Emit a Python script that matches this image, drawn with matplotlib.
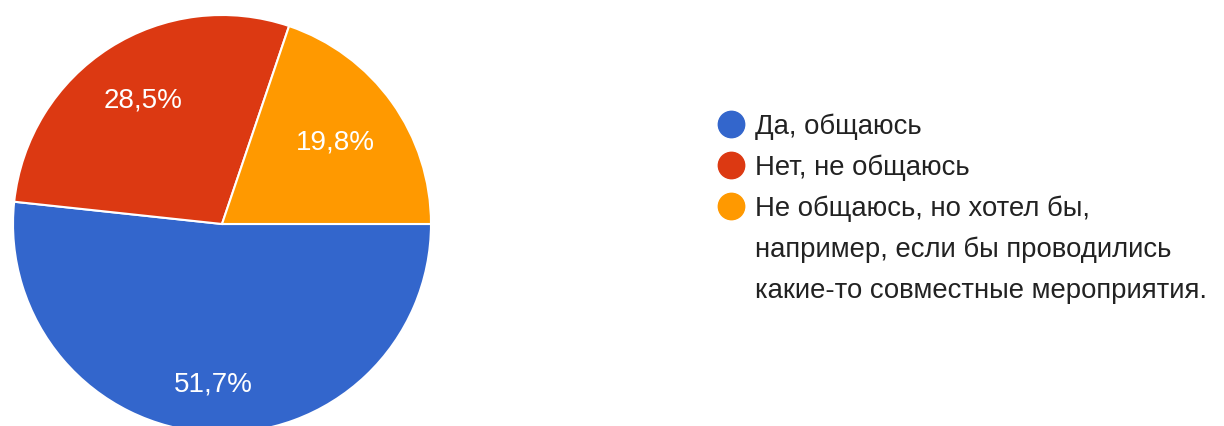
import numpy as np
import matplotlib.pyplot as plt
from matplotlib.lines import Line2D

plt.rcParams['font.family'] = ['Liberation Sans', 'DejaVu Sans']

# data
labels = ["Да, общаюсь", "Нет, не общаюсь",
          "Не общаюсь, но хотел бы,\nнапример, если бы проводились\nкакие-то совместные мероприятия."]
values = [51.7, 28.5, 19.8]
colors = ["#3366cc", "#dc3912", "#ff9900"]

fig = plt.figure(figsize=(12.24, 4.26), dpi=100)
W, H = 1224, 426
cx, cy, r = 222, 224, 209
ax = fig.add_axes([(cx - r) / W, (H - cy - r) / H, 2 * r / W, 2 * r / H])

wedges, texts, autotexts = ax.pie(
    values, colors=colors, startangle=0, counterclock=False,
    autopct=lambda p: f"{p:.1f}".replace(".", ",") + "%", pctdistance=0.72,
    wedgeprops=dict(edgecolor="white", linewidth=1.5),
    textprops=dict(color="white", fontsize=20))
ax.set_xlim(-1, 1)
ax.set_ylim(-1, 1)
ax.set_aspect("equal")

# nudge label distance per slice (Google style placement)
dists = [0.77, 0.70, 0.67]
for w, t, d in zip(wedges, autotexts, dists):
    a = np.deg2rad((w.theta1 + w.theta2) / 2)
    t.set_position((d * np.cos(a), d * np.sin(a)))

# legend drawn by hand: circle + text, 41 px rows
y = 124
for lab, c in zip(labels, colors):
    fig.add_artist(Line2D([731 / W], [1 - y / H], marker="o", markersize=19,
                          color=c, linestyle="", transform=fig.transFigure))
    for line in lab.split("\n"):
        fig.text(755 / W, 1 - y / H, line, fontsize=19.8, color="#222222",
                 va="center_baseline", ha="left")
        y += 41

fig.savefig("out.png", dpi=100)
